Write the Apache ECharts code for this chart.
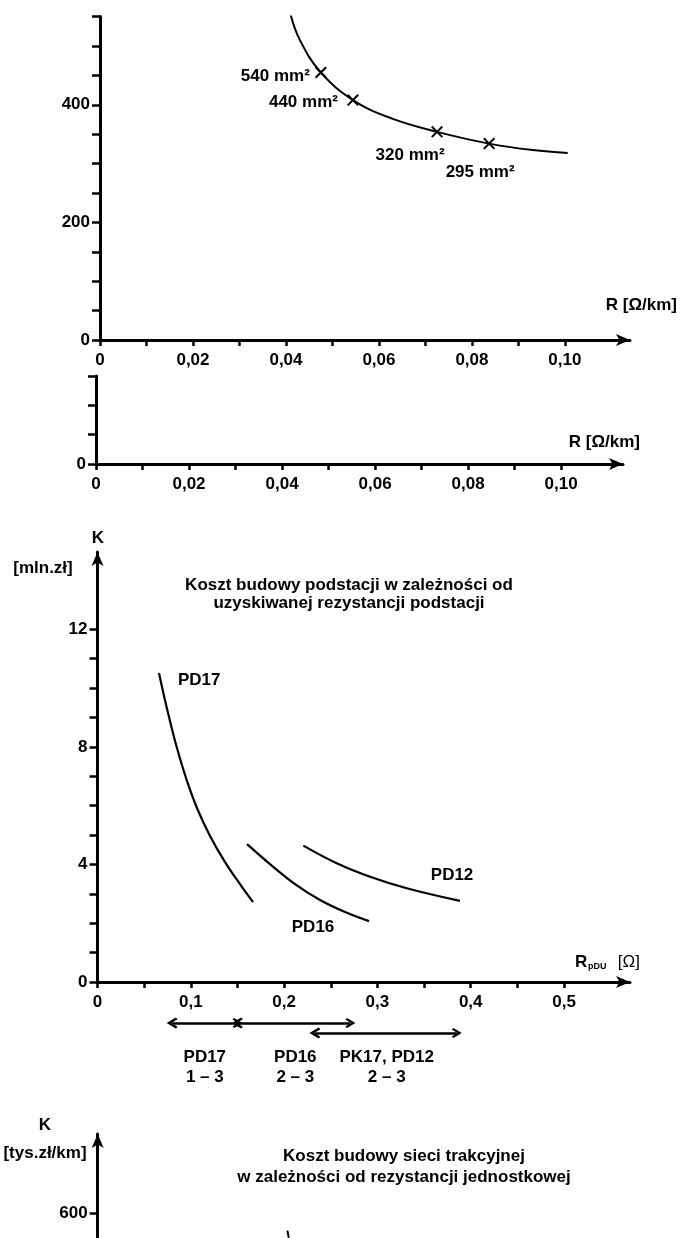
<!DOCTYPE html>
<html>
<head>
<meta charset="utf-8">
<script src="https://cdn.jsdelivr.net/npm/echarts@6/dist/echarts.min.js"></script>
<style>
html,body{margin:0;padding:0;background:#fff}
#chart{width:681px;height:1238px}
</style>
</head>
<body>
<div id="chart"></div>
<script>
// koszt sieci trakcyjnej vs R [ohm/km]
var cableR = [0.0409, 0.0430, 0.0475, 0.0544, 0.0630, 0.0725, 0.0837, 0.0931, 0.1006];
var cableK = [556, 510, 455, 408, 376, 354, 334, 323, 318];
var crossNames = ['540 mm²', '440 mm²', '320 mm²', '295 mm²'];
var crossR = [0.0475, 0.0544, 0.0725, 0.0837];
var crossK = [455, 408, 354, 334];

// koszt podstacji vs R_pDU [ohm]
var pd17R = [0.0659, 0.0713, 0.0777, 0.0852, 0.0949, 0.1066, 0.1206, 0.1367, 0.1527, 0.1667];
var pd17K = [10.51, 9.73, 8.88, 7.96, 6.94, 5.92, 4.97, 4.08, 3.33, 2.72];
var pd16R = [0.1603, 0.1849, 0.2117, 0.2385, 0.2653, 0.2910];
var pd16K = [4.69, 4.01, 3.33, 2.79, 2.38, 2.07];
var pd12R = [0.2206, 0.2564, 0.2921, 0.3314, 0.3885];
var pd12K = [4.64, 4.04, 3.58, 3.19, 2.76];
var curveNames = ['PD17', 'PD16', 'PD12'];
var curveLabelR = [0.109, 0.231, 0.380];
var curveLabelK = [10.27, 1.87, 3.64];

// zakresy pod osia
var rangeFrom = [0.080, 0.150, 0.233];
var rangeTo = [0.150, 0.271, 0.385];
var rangeLevel = [5, 5, 15];
var rangeNames = ['PD17\n1 – 3', 'PD16\n2 – 3', 'PK17, PD12\n2 – 3'];
var rangeLabelR = [0.115, 0.212, 0.310];

// dolny wykres (uciety)
var bottomR = [0.0408, 0.0411];
var bottomK = [570, 558];

// ticks
var rTicks = [0, 0.01, 0.02, 0.03, 0.04, 0.05, 0.06, 0.07, 0.08, 0.09, 0.10];
var rLabels = [0, 0.02, 0.04, 0.06, 0.08, 0.10];
var rpTicks = [0, 0.05, 0.1, 0.15, 0.2, 0.25, 0.3, 0.35, 0.4, 0.45, 0.5];
var rpLabels = [0, 0.1, 0.2, 0.3, 0.4, 0.5];
var kTicks = [0, 1, 2, 3, 4, 5, 6, 7, 8, 9, 10, 11, 12];
var kLabels = [0, 4, 8, 12];
var costTicks = [0, 50, 100, 150, 200, 250, 300, 350, 400, 450, 500, 550];
var costLabels = [0, 200, 400];

var ink = '#000';
var txt = {fontFamily: 'Liberation Sans', fontSize: 17, fontWeight: 'bold', color: ink};

function comma(d) {
    return function (v) { return v === 0 ? '0' : v.toFixed(d).replace('.', ','); };
}

function xAx(grid, max, ticks, labels, fmt, arrow) {
    return {
        type: 'value', gridIndex: grid, min: 0, max: max,
        splitLine: {show: false},
        axisLine: {show: true, onZero: false, lineStyle: {color: ink, width: 3},
            symbol: arrow ? ['none', 'arrow'] : 'none', symbolSize: [9, 14]},
        axisTick: {show: true, length: 6, lineStyle: {color: ink, width: 2.5}, customValues: ticks},
        axisLabel: {show: true, margin: 12, customValues: labels, formatter: fmt,
            fontFamily: txt.fontFamily, fontSize: txt.fontSize, fontWeight: txt.fontWeight, color: ink}
    };
}
function yAx(grid, min, max, ticks, labels, arrow) {
    return {
        type: 'value', gridIndex: grid, min: min, max: max,
        splitLine: {show: false},
        axisLine: {show: true, onZero: false, lineStyle: {color: ink, width: 3},
            symbol: arrow ? ['none', 'arrow'] : 'none', symbolSize: [9, 14]},
        axisTick: {show: true, length: 8, lineStyle: {color: ink, width: 2.5}, customValues: ticks},
        axisLabel: {show: true, margin: 10, customValues: labels,
            fontFamily: txt.fontFamily, fontSize: txt.fontSize, fontWeight: txt.fontWeight, color: ink}
    };
}
function hidden(grid, max, inv) {
    return {type: 'value', gridIndex: grid, min: 0, max: max, inverse: !!inv, show: false};
}
function pairs(a, b) {
    return a.map(function (v, i) { return [v, b[i]]; });
}
function label(s, extra) {
    return Object.assign({type: 'text', style: Object.assign({}, txt, {fill: ink, verticalAlign: 'middle'}, s)}, extra);
}

var xMark = 'path://M0,1.2 L1.2,0 L5,3.8 L8.8,0 L10,1.2 L6.2,5 L10,8.8 L8.8,10 L5,6.2 L1.2,10 L0,8.8 L3.8,5 Z';
var chevron = 'path://M5,0 L10,7 L8.4,8.4 L5,3.6 L1.6,8.4 L0,7 Z';

var crossLabel = [
    {position: 'left', distance: 5, offset: [0, 4]},
    {position: 'left', distance: 9, offset: [0, 2]},
    {position: 'bottom', distance: 9, offset: [-27, 0]},
    {position: 'bottom', distance: 14, offset: [-9, 0]}
];

var chart = echarts.init(document.getElementById('chart'));
var option = {
    backgroundColor: '#fff',
    animation: false,
    grid: [
        {left: 100, top: 16.6, width: 530, height: 323.4, outerBoundsMode: 'none'},
        {left: 96, top: 376, width: 527, height: 88, outerBoundsMode: 'none'},
        {left: 97.5, top: 552, width: 532.5, height: 430, outerBoundsMode: 'none'},
        {left: 97.5, top: 1018, width: 532.5, height: 70, outerBoundsMode: 'none'},
        {left: 97.7, top: 1134, width: 530, height: 104, outerBoundsMode: 'none'}
    ],
    xAxis: [
        xAx(0, 0.114, rTicks, rLabels, comma(2), true),
        xAx(1, 0.1133, rTicks, rLabels, comma(2), true),
        xAx(2, 0.5707, rpTicks, rpLabels, comma(1), true),
        hidden(3, 0.5707),
        hidden(4, 0.114)
    ],
    yAxis: [
        yAx(0, 0, 550, costTicks, costLabels, false),
        yAx(1, 0, 150, [0, 50, 100, 150], [0], false),
        yAx(2, 0, 14.63, kTicks, kLabels, true),
        hidden(3, 70, true),
        yAx(4, 557.5, 735, [600], [600], true)
    ],
    graphic: [
        label({text: 'R [Ω/km]', align: 'right'}, {x: 677, y: 305}),
        label({text: 'R [Ω/km]', align: 'right'}, {x: 640, y: 442}),
        label({text: 'K', align: 'center'}, {x: 98, y: 538}),
        label({text: '[mln.zł]', align: 'center'}, {x: 43, y: 568}),
        label({text: 'Koszt budowy podstacji w zależności od\nuzyskiwanej rezystancji podstacji', align: 'center', lineHeight: 18}, {x: 349, y: 594}),
        label({text: 'R', align: 'left'}, {x: 575, y: 962}),
        label({text: 'pDU', align: 'left', fontSize: 9}, {x: 588, y: 967}),
        label({text: '[Ω]', align: 'right', fontWeight: 'normal'}, {x: 640, y: 962}),
        label({text: 'K', align: 'center'}, {x: 45, y: 1125}),
        label({text: '[tys.zł/km]', align: 'center'}, {x: 45, y: 1153}),
        label({text: 'Koszt budowy sieci trakcyjnej\nw zależności od rezystancji jednostkowej', align: 'center', lineHeight: 21}, {x: 404, y: 1167})
    ],
    series: [
        {
            type: 'line', xAxisIndex: 0, yAxisIndex: 0, smooth: 0.4, symbol: 'none',
            lineStyle: {color: ink, width: 2}, data: pairs(cableR, cableK)
        },
        {
            type: 'scatter', xAxisIndex: 0, yAxisIndex: 0, symbol: xMark, symbolSize: 12,
            itemStyle: {color: ink, opacity: 1},
            data: crossR.map(function (r, i) {
                return {value: [r, crossK[i]], name: crossNames[i],
                    label: Object.assign({show: true, formatter: '{b}', opacity: 1}, crossLabel[i], txt)};
            })
        },
        {
            type: 'line', xAxisIndex: 2, yAxisIndex: 2, smooth: 0.4, symbol: 'none',
            lineStyle: {color: ink, width: 2.2}, data: pairs(pd17R, pd17K)
        },
        {
            type: 'line', xAxisIndex: 2, yAxisIndex: 2, smooth: 0.4, symbol: 'none',
            lineStyle: {color: ink, width: 2.2}, data: pairs(pd16R, pd16K)
        },
        {
            type: 'line', xAxisIndex: 2, yAxisIndex: 2, smooth: 0.4, symbol: 'none',
            lineStyle: {color: ink, width: 2.2}, data: pairs(pd12R, pd12K)
        },
        {
            type: 'scatter', xAxisIndex: 2, yAxisIndex: 2, symbolSize: 0,
            itemStyle: {opacity: 1},
            label: Object.assign({show: true, position: 'inside', opacity: 1, formatter: function (p) { return p.value[2]; }}, txt),
            data: curveNames.map(function (n, i) { return [curveLabelR[i], curveLabelK[i], n]; })
        },
        {
            type: 'lines', coordinateSystem: 'cartesian2d', xAxisIndex: 3, yAxisIndex: 3,
            symbol: [chevron, chevron], symbolSize: [11, 10],
            lineStyle: {color: ink, width: 2.5, opacity: 1},
            data: rangeFrom.map(function (f, i) {
                return {coords: [[f, rangeLevel[i]], [rangeTo[i], rangeLevel[i]]]};
            })
        },
        {
            type: 'scatter', xAxisIndex: 3, yAxisIndex: 3, symbolSize: 0,
            itemStyle: {opacity: 1},
            label: Object.assign({show: true, position: 'inside', opacity: 1, lineHeight: 20, formatter: function (p) { return p.value[2]; }}, txt),
            data: rangeNames.map(function (n, i) { return [rangeLabelR[i], 49, n]; })
        },
        {
            type: 'line', xAxisIndex: 4, yAxisIndex: 4, symbol: 'none',
            lineStyle: {color: ink, width: 2}, data: pairs(bottomR, bottomK)
        }
    ]
};
chart.setOption(option);
</script>
</body>
</html>
